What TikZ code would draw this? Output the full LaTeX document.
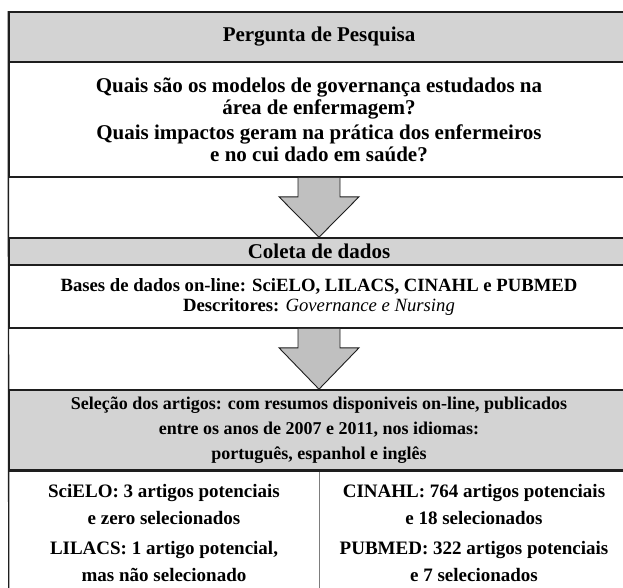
\documentclass[tikz,border=0pt]{standalone}
\usepackage{fontspec}
\setmainfont{Liberation Serif}
\usetikzlibrary{calc}
\definecolor{bandgray}{RGB}{211,211,211}
\definecolor{arrowgray}{RGB}{192,192,192}
\definecolor{divgray}{RGB}{125,125,125}
\definecolor{rulec}{RGB}{30,30,30}
\tikzset{
  box/.style={draw=rulec, line width=1.6pt, minimum width=620pt, inner sep=0pt, align=center, font=\bfseries},
  band/.style={box, fill=bandgray},
  plain/.style={box, fill=white},
  blockarrow/.style={draw=rulec, line width=0.9pt, fill=arrowgray, line join=miter},
  txt/.style={inner sep=0pt, align=center, font=\fontsize{19}{27}\selectfont\bfseries},
}
\begin{document}
\begin{tikzpicture}[x=1pt,y=-1pt]
\clip (0,0) rectangle (623,587);
\fill[white] (0,0) rectangle (623,587);
% boxes
\node[band, minimum height=50pt, font=\fontsize{21}{24}\selectfont\bfseries] (h1) at (319,37) {Pergunta de Pesquisa};
\node[plain, minimum height=115pt, font=\fontsize{21}{22}\selectfont\bfseries] (q) at (319,119.5)
  {Quais são os modelos de governança estudados na\\
   área de enfermagem?\\[3pt]
   Quais impactos geram na prática dos enfermeiros\\
   e no cui dado em saúde?};
\node[band, minimum height=27pt, font=\fontsize{21}{24}\selectfont\bfseries] (h2) at (319,251.5) {Coleta de dados};
\node[plain, minimum height=63pt, font=\fontsize{18.7}{20}\selectfont\bfseries] (b) at (319,296.5)
  {Bases de dados on-line: SciELO, LILACS, CINAHL e PUBMED\\
   Descritores: {\normalfont\itshape Governance e Nursing}};
\node[band, minimum height=80pt, font=\fontsize{18}{25}\selectfont\bfseries] (s) at (319,430)
  {Seleção dos artigos: com resumos disponiveis on-line, publicados\\
   entre os anos de 2007 e 2011, nos idiomas:\\
   português, espanhol e inglês};
\node[inner sep=0pt, minimum width=310pt, minimum height=130pt] (l) at (164,535) {};
\node[inner sep=0pt, minimum width=310pt, minimum height=130pt] (r) at (474,535) {};
% frame left line and divider
\draw[rulec, line width=1.4pt] (h1.north west) -- (l.south west);
\draw[divgray, line width=1.4pt] (l.north east) -- (l.south east);
\draw[rulec, line width=1.6pt] (s.south west) -- (s.south east);
% bottom texts
\node[txt] (l1) at (164,504.5) {SciELO: 3 artigos potenciais\\e zero selecionados};
\node[txt] (l2) at (164,561) {LILACS: 1 artigo potencial,\\mas não selecionado};
\node[txt] (r1) at (474,504.5) {CINAHL: 764 artigos potenciais\\e 18 selecionados};
\node[txt] (r2) at (474,561) {PUBMED: 322 artigos potenciais\\e 7 selecionados};
% block arrows
\draw[blockarrow] ($(q.south)+(-21,0)$) -- ++(0,19) -- ++(-19,0) -- (h2.north)
  -- ($(q.south)+(40,19)$) -- ++(-19,0) -- ($(q.south)+(21,0)$);
\draw[blockarrow] ($(b.south)+(-21,0)$) -- ++(0,19) -- ++(-19,0) -- (s.north)
  -- ($(b.south)+(40,19)$) -- ++(-19,0) -- ($(b.south)+(21,0)$);
\end{tikzpicture}
\end{document}
